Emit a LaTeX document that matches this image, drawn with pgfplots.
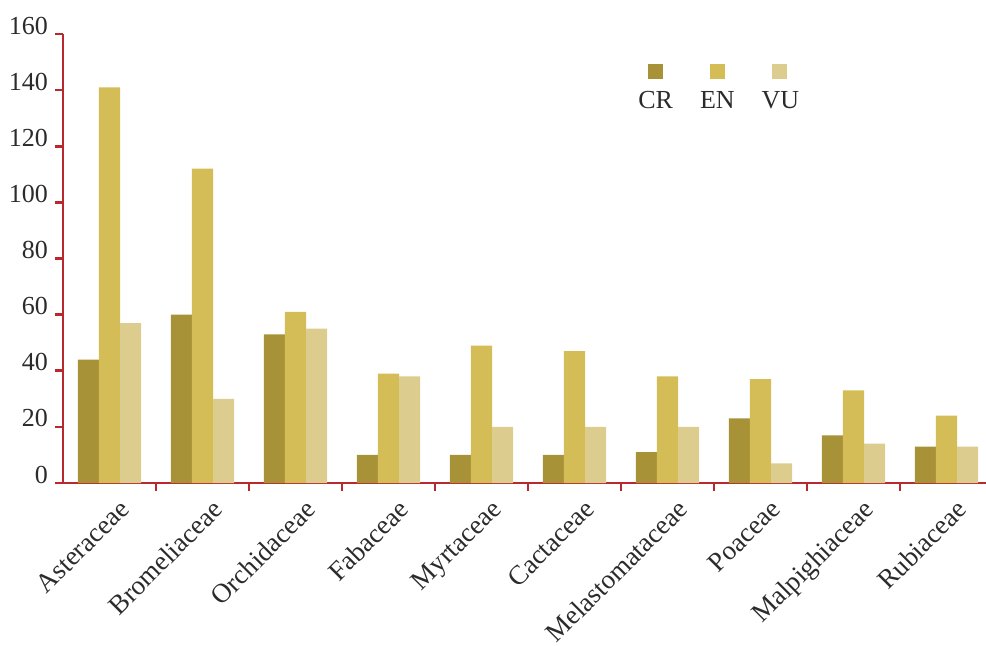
\documentclass[border=0pt]{standalone}
\usepackage{pgfplots}
\pgfplotsset{compat=1.18}
\usepackage{fontspec}
\setmainfont{Liberation Serif}

\definecolor{crcol}{HTML}{A89237}
\definecolor{encol}{HTML}{D4BD56}
\definecolor{vucol}{HTML}{DCCD8F}
\definecolor{axisred}{HTML}{B8282F}
\definecolor{txt}{HTML}{2B2B2B}

\begin{document}
\begin{tikzpicture}
\begin{axis}[
  at={(0,0)}, anchor=south west,
  scale only axis, width=465pt, height=224.5pt,
  xmin=-0.5, xmax=9.5, ymin=0, ymax=160,
  ybar=0pt, bar width=0.226,
  axis x line*=bottom, axis y line*=left,
  axis line style={draw=axisred, line width=1.3pt, -},
  ytick={0,20,...,160},
  major tick length=4pt, tick align=outside,
  y tick style={draw=axisred, line width=1.3pt},
  x tick style={draw=none},
  xtick={0,...,9},
  xticklabels={Asteraceae,Bromeliaceae,Orchidaceae,Fabaceae,Myrtaceae,Cactaceae,Melastomataceae,Poaceae,Malpighiaceae,Rubiaceae},
  extra x ticks={0.5,1.5,...,8.5},
  extra x tick labels={},
  extra x tick style={x tick style={draw=axisred, line width=1.3pt}},
  xticklabel style={rotate=45, anchor=north east, font=\fontsize{13.5}{15}\selectfont, text=txt, xshift=4pt, yshift=-2pt},
  yticklabel style={anchor=base east, font=\fontsize{13}{15}\selectfont, text=txt},
  /pgf/number format/assume math mode=true,
  legend image code/.code={\path (0,0); \fill[#1, overlay] (10pt,11pt) rectangle ++(7.5pt,7.5pt);},
  legend columns=3,
  legend style={at={(0.601,0.891)}, anchor=north west, draw=none, fill=none,
    font=\fontsize{13}{15}\selectfont, text=txt, column sep=3pt,
    /tikz/every even column/.append style={column sep=6.5pt}},
]
\addplot[fill=crcol, draw=none] coordinates {(0,44) (1,60) (2,53) (3,10) (4,10) (5,10) (6,11) (7,23) (8,17) (9,13)};
\addplot[fill=encol, draw=none] coordinates {(0,141) (1,112) (2,61) (3,39) (4,49) (5,47) (6,38) (7,37) (8,33) (9,24)};
\addplot[fill=vucol, draw=none] coordinates {(0,57) (1,30) (2,55) (3,38) (4,20) (5,20) (6,20) (7,7) (8,14) (9,13)};
\legend{CR,EN,VU}
\end{axis}
\pgfresetboundingbox
\useasboundingbox (-31.5pt,-81pt) rectangle (461.5pt,241.5pt);
\end{tikzpicture}
\end{document}
